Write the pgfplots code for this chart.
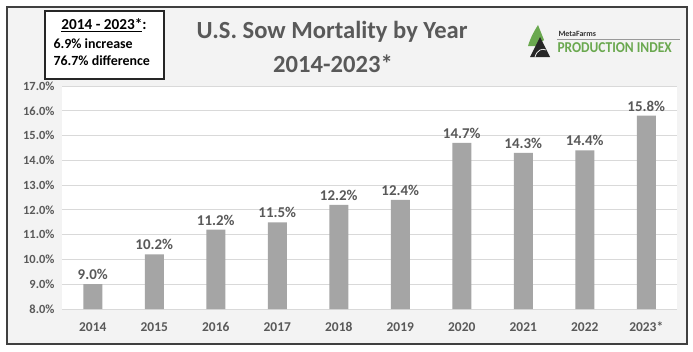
\documentclass[border=0pt]{standalone}
\usepackage{pgfplots}
\pgfplotsset{compat=1.18}
\usepackage{fontspec}
\setmainfont{Carlito}
\definecolor{txt}{HTML}{595959}
\definecolor{barc}{HTML}{A5A5A5}
\definecolor{gridc}{HTML}{D9D9D9}
\definecolor{bgc}{HTML}{F3F3F3}
\definecolor{mfgreen}{HTML}{6AA84F}
\begin{document}
\begin{tikzpicture}[x=1bp,y=1bp]
\path[use as bounding box] (0,0) rectangle (693,351);
\fill[bgc] (7,7) rectangle (687,344);
\draw[line width=1.6bp, black!75] (7,7) rectangle (687,344);
\begin{axis}[
  at={(62bp,42bp)}, anchor=south west,
  scale only axis, width=615bp, height=223bp,
  xmin=-0.5, xmax=9.5, ymin=8, ymax=17,
  ytick={8,9,...,17},
  xtick={0,...,9},
  xticklabels={2014,2015,2016,2017,2018,2019,2020,2021,2022,2023*},
  yticklabel={\pgfmathprintnumber[fixed,fixed zerofill,precision=1]{\tick}\%},
  /pgf/number format/assume math mode=true,
  axis line style={draw=none},
  major tick length=0pt,
  ymajorgrids, grid style={gridc, line width=0.8bp},
  axis background/.style={fill=white},
  tick label style={text=txt, font=\fontsize{12.5}{14}\selectfont\bfseries},
  xticklabel style={font=\fontsize{13.5}{15}\selectfont\bfseries, yshift=-9bp, text height=9.5bp, text depth=1bp},
  yticklabel style={xshift=-4bp},
  ybar, bar width=19bp,
  nodes near coords={\pgfmathprintnumber[fixed,fixed zerofill,precision=1]{\pgfplotspointmeta}\%},
  nodes near coords style={text=txt, font=\fontsize{15}{17}\selectfont\bfseries, /pgf/number format/assume math mode=true, yshift=1bp},
]
\addplot[fill=barc, draw=none] coordinates {(0,9.0) (1,10.2) (2,11.2) (3,11.5) (4,12.2) (5,12.4) (6,14.7) (7,14.3) (8,14.4) (9,15.8)};
\end{axis}
% title
\node[text=txt, font=\fontsize{24.7}{28}\selectfont\bfseries] at (332,319) {U.S. Sow Mortality by Year};
\node[text=txt, font=\fontsize{24.7}{28}\selectfont\bfseries] at (333,287) {2014-2023*};
% info box
\draw[line width=1.2bp, black!85, fill=white] (45,272) rectangle (164,340);
\node[font=\fontsize{15.3}{17}\selectfont\bfseries] at (104,326) {\underline{2014 - 2023*}:};
\node[anchor=west, font=\fontsize{14}{16}\selectfont\bfseries] at (50,307) {6.9\% increase};
\node[anchor=west, font=\fontsize{14}{16}\selectfont\bfseries] at (50,290) {76.7\% difference};
% logo
\fill[mfgreen] (528,305) .. controls (531,315) and (535,321) .. (538,326) -- (544,311) -- (536,305) -- cycle;
\fill[black!85] (530,294) -- (540,314) -- (550,294) -- cycle;
\draw[white, line width=0.7bp] (535,294) .. controls (537,301) and (542,303) .. (546,301);
\node[anchor=west, font=\fontsize{8}{9}\selectfont\bfseries, text=black!80] at (555,317) {MetaFarms};
\draw[black!40, line width=0.8bp] (557,312) -- (680,312);
\node[anchor=west, font=\fontsize{13.5}{15}\selectfont\bfseries, text=mfgreen, yscale=1.12] at (554,303) {PRODUCTION INDEX};
\end{tikzpicture}
\end{document}
